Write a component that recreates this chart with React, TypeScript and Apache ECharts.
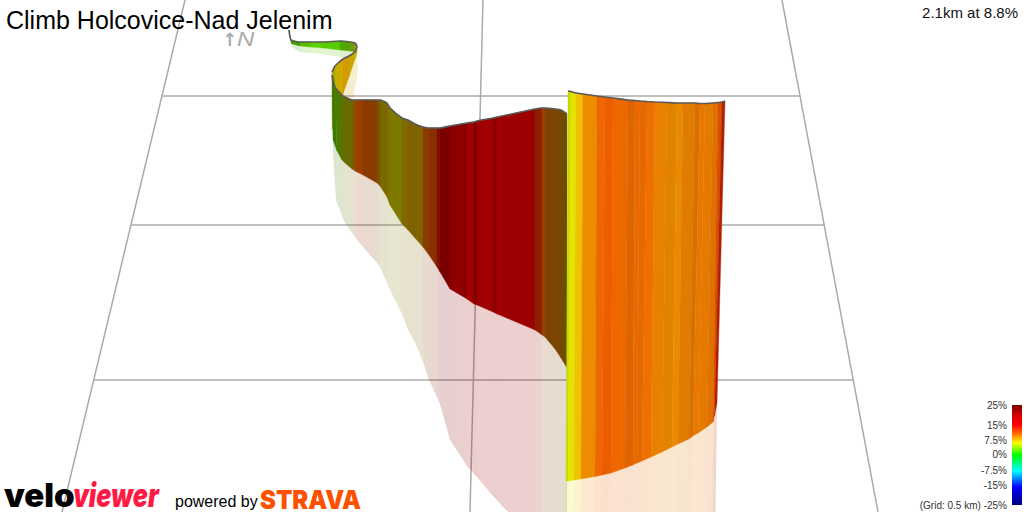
import React, { useEffect, useRef } from "react";
import * as echarts from "echarts";

const titleText = "Climb Holcovice-Nad Jelenim";
const summaryText = "2.1km at 8.8%";
const scaleLabels = ["25%", "15%", "7.5%", "0%", "-7.5%", "-15%", "(Grid: 0.5 km) -25%"];
const scaleLabelY = [405, 425, 440, 454, 470, 485, 505];
const scaleStops = ["#800000", "#e00000", "#ff0000", "#ff8000", "#ffff00", "#00ff00", "#00ffff", "#0060ff", "#0000ff", "#000080"];
const scaleOffsets = [0, 0.12, 0.2, 0.3, 0.38, 0.5, 0.66, 0.76, 0.82, 1];

const gridLines = [
  [[162, 96], [800, 96]],
  [[131, 225], [824, 225]],
  [[94, 380], [853, 380]],
  [[185, 0], [62, 512]],
  [[483, 0], [470, 512]],
  [[782, 0], [878, 512]],
];

// ribbon 1: the far start of the climb
const oneTop = [[289, 30], [291, 40], [300, 42], [310, 42], [323, 42], [340, 41], [350, 42], [355, 43], [357, 46]];
const oneBottom = [[291, 42], [292, 44], [300, 46], [310, 47], [323, 48], [340, 50], [350, 51], [355, 52], [357, 53]];
const oneShade = [[291, 44], [292, 47], [300, 52], [310, 53], [323, 54], [340, 57], [350, 58], [355, 57], [357, 60]];
const oneColors = ["#2f7f00", "#3ea000", "#55c000", "#60d000", "#58cc00", "#4fa800", "#6f9a10", "#a8b000"];

// ribbon 2: the bend
const twoTop = [[357, 46], [355, 52], [349, 56], [343, 59], [338, 63], [335, 66], [332, 72]];
const twoBottom = [[357, 53], [355, 59], [349, 77], [343, 94], [338, 108], [335, 118], [332, 130]];
const twoShade = [[357, 58], [358, 70], [355, 88], [353, 100], [345, 110], [338, 120], [333, 135]];
const twoColors = ["#b8c000", "#c8a800", "#d09a00", "#d0a800", "#c8b000", "#a8a800"];

// ribbon 3: the long section running right
const threeTop = [[332, 75], [335, 87], [342, 95], [345, 97], [352, 100], [355, 100], [357, 100], [363, 100], [377, 100], [380, 100], [387, 103], [390, 108], [402, 118], [408, 120], [415, 124], [423, 127], [429, 128], [437, 128], [440, 128], [450, 126], [467, 123], [474, 122], [477, 121], [493, 118], [497, 117], [502, 116], [535, 109], [542, 108], [545, 108], [555, 109], [561, 110], [567, 114]];
const threeBottom = [[333, 140], [337, 151], [342, 160], [345, 163], [352, 169], [355, 171], [357, 172], [363, 175], [377, 183], [380, 186], [387, 197], [390, 205], [402, 224], [408, 230], [415, 238], [423, 247], [429, 255], [437, 267], [440, 272], [450, 289], [467, 299], [474, 304], [477, 305], [493, 312], [497, 314], [502, 316], [535, 330], [542, 335], [545, 337], [555, 349], [561, 358], [567, 368]];
const threeShade = [[333, 153], [336, 200], [342, 216], [345, 223], [352, 233], [355, 237], [357, 240], [363, 247], [377, 263], [380, 267], [387, 283], [390, 290], [402, 314], [408, 330], [415, 342], [423, 362], [429, 380], [437, 397], [440, 404], [450, 440], [467, 466], [474, 474], [477, 477], [493, 496], [497, 500], [502, 506], [535, 538], [542, 545], [545, 548], [555, 558], [561, 564], [567, 570]];
const threeColors = ["#3a7a00", "#4a7a00", "#5f7000", "#6a6a00", "#7c5a00", "#a04400", "#9c3d00", "#8a3c00", "#7c5200", "#7c6800", "#7e7000", "#7e7a00", "#7f6a00", "#806000", "#7f6500", "#8a3c00", "#8a3000", "#7f1000", "#7a0000", "#8e0000", "#a00000", "#800000", "#a00000", "#8c0000", "#a30000", "#9c0000", "#8b2000", "#a04000", "#7c4400", "#7a4600", "#6f4c00"];

// ribbon 4: the near wall
const fourTop = [[568, 91], [571, 91.5], [576, 93], [583, 94], [597, 96], [605, 97], [613, 98], [628, 100], [635, 100.5], [640, 101], [647, 101.5], [655, 102], [667, 102.5], [677, 103], [683, 103], [695, 103], [700, 103.5], [705, 103.5], [713, 103], [718, 102.5], [722, 102], [725, 101]];
const fourBottom = [[566, 481], [568, 481], [574, 480], [581, 479], [595, 476.5], [602, 475], [611, 473], [625, 468], [633, 465], [637, 463], [642, 461], [651, 457], [662, 452], [672, 447], [678, 444], [689, 439], [693, 436], [698, 433], [707, 427], [713, 422], [714.5, 416], [717, 403]];
const fourShade = [[566, 560], [568, 560], [573, 560], [580, 560], [593, 560], [600, 560], [609, 560], [622, 560], [630, 560], [634, 560], [639, 560], [648, 560], [659, 560], [669, 560], [675, 560], [686, 560], [690, 560], [695, 560], [704, 560], [710, 560], [712, 560], [715, 560]];
const fourColors = ["#c8d800", "#e4e400", "#eec400", "#ee8c00", "#ee6800", "#ee5c00", "#ee6800", "#dd6400", "#ea6a00", "#e56800", "#ee7000", "#ea8000", "#e08400", "#ea8a00", "#e07c00", "#d87000", "#e87800", "#e47a00", "#e07000", "#d85000", "#b02000"];

function wallSeries(top: number[][], bottom: number[][], shade: number[][], colors: string[], z: number) {
  const rows = colors.map((_, i) => [
    top[i][0], top[i][1], bottom[i][0], bottom[i][1], shade[i][0], shade[i][1],
    top[i + 1][0], top[i + 1][1], bottom[i + 1][0], bottom[i + 1][1], shade[i + 1][0], shade[i + 1][1],
  ]);
  return {
    type: "custom",
    z,
    silent: true,
    data: rows,
    encode: { x: 0, y: 1 },
    renderItem: (params: any, api: any) => {
      const v = (i: number) => api.value(i);
      const p = (i: number) => api.coord([v(i), v(i + 1)]);
      const color = colors[params.dataIndex];
      return {
        type: "group",
        children: [
          {
            type: "polygon",
            shape: { points: [p(2), p(8), p(10), p(4)] },
            style: { fill: color, opacity: 0.19 },
          },
          {
            type: "polygon",
            shape: { points: [p(0), p(6), p(8), p(2)] },
            style: { fill: color, stroke: color, lineWidth: 0.4 },
          },
        ],
      };
    },
  };
}

function ridgeSeries(top: number[][], z: number) {
  return {
    type: "line",
    z,
    silent: true,
    data: top,
    showSymbol: false,
    clip: false,
    smooth: 0.2,
    lineStyle: { color: "#5a5a5a", width: 1.6 },
  };
}

function gridSeries() {
  return gridLines.map((line) => ({
    type: "line",
    z: 1,
    silent: true,
    data: line,
    showSymbol: false,
    lineStyle: { color: "#aaaaaa", width: 1.5 },
  }));
}

export default function App() {
  const ref = useRef<HTMLDivElement>(null);
  useEffect(() => {
    if (!ref.current) return;
    const chart = echarts.init(ref.current, undefined, { renderer: "svg" });
    const sans = "'Liberation Sans', Arial, sans-serif";
    chart.setOption({
      animation: false,
      backgroundColor: "#ffffff",
      grid: { left: 0, right: 0, top: 0, bottom: 0 },
      xAxis: { type: "value", min: 0, max: 1024, show: false },
      yAxis: { type: "value", min: 0, max: 512, inverse: true, show: false },
      series: [
        ...gridSeries(),
        wallSeries(oneTop, oneBottom, oneShade, oneColors, 2),
        ridgeSeries(oneTop, 2),
        wallSeries(twoTop, twoBottom, twoShade, twoColors, 2),
        ridgeSeries(twoTop, 2),
        wallSeries(threeTop, threeBottom, threeShade, threeColors, 2),
        ridgeSeries(threeTop, 2),
        wallSeries(fourTop, fourBottom, fourShade, fourColors, 3),
        ridgeSeries(fourTop, 3),
      ],
      graphic: [
        { type: "text", z: 10, x: 6, y: 9, style: { text: titleText, font: `25px ${sans}`, lineHeight: 21, fill: "#000" } },
        { type: "text", z: 10, x: 1018, y: 5, style: { text: summaryText, font: `15px ${sans}`, fill: "#111", align: "right" } },
        { type: "text", z: 10, x: 222, y: 31, style: { text: "↑", font: "bold 18px 'DejaVu Sans'", lineHeight: 16, fill: "#aaaaaa" } },
        { type: "text", z: 10, x: 237, y: 31, scaleX: 1.2, style: { text: "N", font: `italic 20px ${sans}`, lineHeight: 16, fill: "#aaaaaa" } },
        {
          type: "rect", z: 10, shape: { x: 1012, y: 405, width: 10, height: 100 },
          style: {
            fill: new echarts.graphic.LinearGradient(0, 0, 0, 1, scaleStops.map((color, i) => ({ offset: scaleOffsets[i], color }))),
          },
        },
        ...scaleLabels.map((text, i) => ({
          type: "text", z: 10, x: 1007, y: scaleLabelY[i],
          style: { text, font: `10px ${sans}`, fill: "#333", align: "right", verticalAlign: "middle" },
        })),
        { type: "text", z: 10, x: 4, y: 481, style: { text: "velo", font: "900 33px Inter", lineHeight: 28, fill: "#000" } },
        { type: "text", z: 10, x: 73, y: 481, scaleX: 0.76, style: { text: "viewer", font: "italic 900 33px Inter", lineHeight: 28, fill: "#ff1a45" } },
        { type: "text", z: 10, x: 175, y: 493, style: { text: "powered by", font: `16px ${sans}`, lineHeight: 16, fill: "#000" } },
        { type: "text", z: 10, x: 260, y: 489, scaleX: 0.92, style: { text: "STRAVA", font: "900 26px Inter", lineHeight: 22, fill: "#fc5200" } },
      ],
    });
    return () => chart.dispose();
  }, []);
  return <div ref={ref} style={{ position: "absolute", left: 0, top: 0, width: 1024, height: 512, overflow: "hidden" }} />;
}
